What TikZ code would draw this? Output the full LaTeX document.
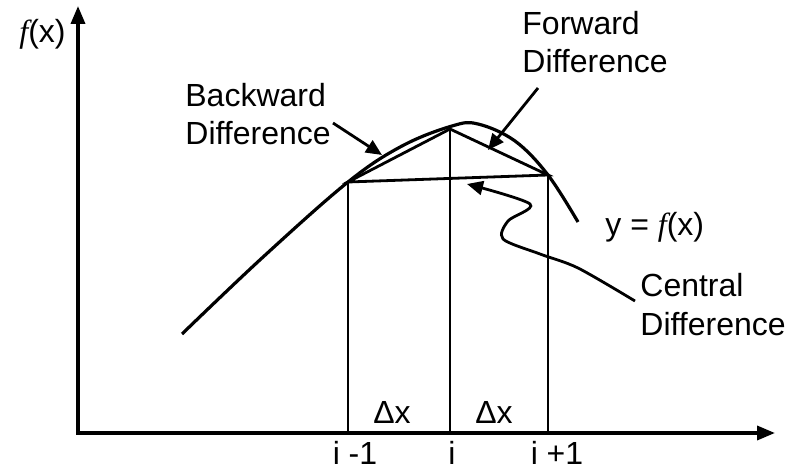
\documentclass[tikz,border=0pt]{standalone}
\usepackage{fontspec}
\setmainfont{Liberation Sans}
\newfontfamily\fxfont{Liberation Serif}
\usepackage{tikz}
\usetikzlibrary{arrows.meta}

\tikzset{
  lbl/.style={font=\fontsize{16}{19}\selectfont, inner sep=0pt, align=left},
  axis/.style={line width=1.8pt, {Triangle[length=9pt,width=7pt]}-{Triangle[length=9pt,width=7pt]}},
  pointer/.style={line width=1.4pt, -{Triangle[length=8pt,width=7pt]}},
}
\newcommand{\fofx}{{\fxfont\itshape f}(x)}

\begin{document}
\begin{tikzpicture}[x=0.5pt,y=-0.5pt]
    \useasboundingbox (0,0) rectangle (792,470);
    % axes
    \coordinate (o) at (78,433);
    \coordinate (ytop) at (78,6);
    \coordinate (xend) at (775,433);
    \draw[axis] (ytop) -- (o) -- (xend);
    \node[lbl, anchor=base east] (fx) at (66,43) {\fofx};
    % curve and the three grid points
    \draw[line width=1.6pt] plot[smooth, tension=0.6] coordinates {(182,334) (262,258) (348,182) (402,146) (452,126) (478,124) (515,141) (548,175) (578,222)};
    \coordinate (pl) at (348,182);
    \coordinate (pc) at (450,129);
    \coordinate (pr) at (548,175);
    \foreach \p in {pl,pc,pr}
        \draw[line width=1.4pt] (\p) -- (\p |- o);
    \draw[line width=1.4pt] (pl) -- (pc) -- (pr) -- cycle;
    % axis labels
    \node[lbl, anchor=base] (il) at (355,464) {i -1};
    \node[lbl, anchor=base] (ic) at (452,464) {i};
    \node[lbl, anchor=base] (ir) at (557,464) {i +1};
    \node[lbl, anchor=base] (dxl) at (392,423) {Δx};
    \node[lbl, anchor=base] (dxr) at (494,423) {Δx};
    \node[lbl, anchor=base west] (yfx) at (605,235) {y = \fofx};
    % difference labels
    \node[lbl, anchor=base west] (bwd) at (185,145) {Backward\\Difference};
    \node[lbl, anchor=base west] (fwd) at (522,73) {Forward\\Difference};
    \node[lbl, anchor=base west] (ctr) at (640,335) {Central\\Difference};
    \coordinate (bs) at (333,123);
    \coordinate (bt) at (382,155);
    \coordinate (fs) at (538,88);
    \coordinate (ft) at (488,150);
    \coordinate (cs) at (635,301);
    \coordinate (ct) at (467,184);
    \draw[pointer] (bs) -- (bt);
    \draw[pointer] (fs) -- (ft);
    \draw[pointer] plot[smooth, tension=0.5] coordinates {(cs) (578,268) (540,254) (503,239) (508,221) (530,204) (ct)};
\end{tikzpicture}
\end{document}
